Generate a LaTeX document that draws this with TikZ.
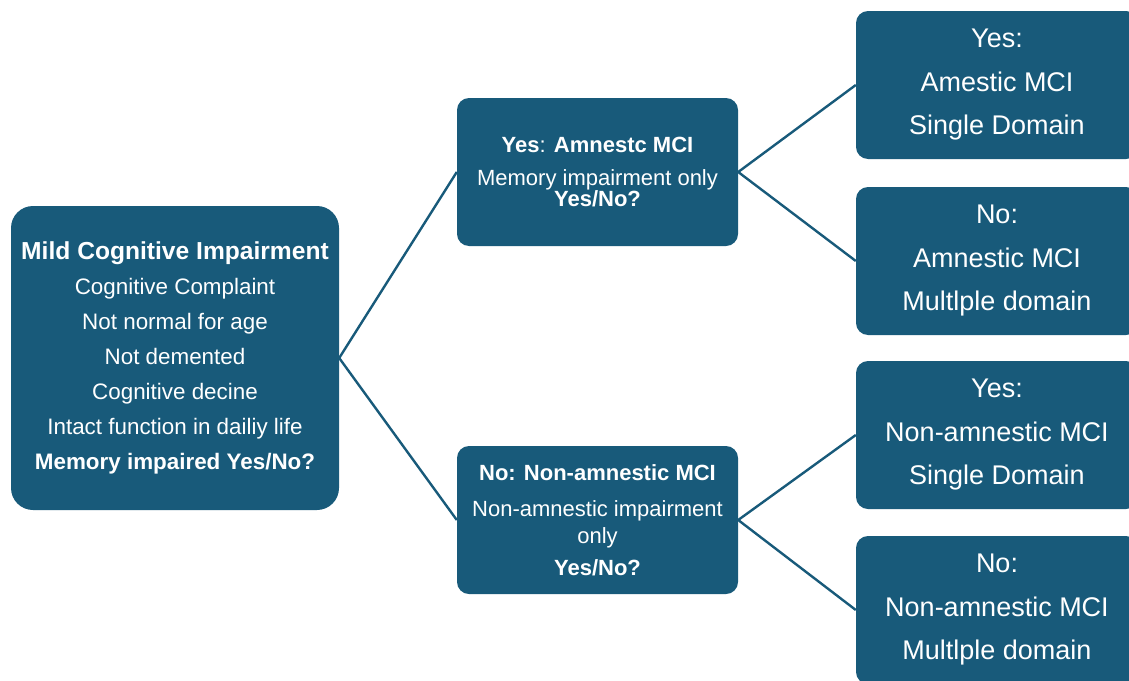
\documentclass[tikz,border=0pt]{standalone}
\usepackage{fontspec}
\setmainfont{Liberation Sans}
\usepackage{xcolor}
\usepackage{tikz}
\definecolor{mciblue}{RGB}{24,90,122}

\begin{document}
\begin{tikzpicture}[x=1pt, y=-1pt, every node/.style={inner sep=2pt},
  box/.style={fill=mciblue, text=white, align=center, rounded corners=12pt,
    minimum width=281pt, minimum height=148pt},
  mid/.style={box, font=\fontsize{22}{22}\selectfont},
  leaf/.style={box, minimum width=282pt, font=\fontsize{27}{43.5}\selectfont},
  link/.style={draw=mciblue, line width=2.4pt}]
\useasboundingbox (0,0) rectangle (1129,680);
\clip (0,0) rectangle (1129,680);
% root
\node[box, rounded corners=22pt, minimum width=328pt, minimum height=304pt,
  font=\fontsize{22.4}{35}\selectfont] (mci) at (175,358)
  {{\fontsize{24.6}{35}\selectfont\bfseries Mild Cognitive Impairment}\\
   Cognitive Complaint\\ Not normal for age\\ Not demented\\
   Cognitive decine\\ Intact function in dailiy life\\
   \textbf{Memory impaired Yes/No?}};
% second level
\node[mid] (amn) at (597.5,172)
  {\textbf{Yes}: \textbf{Amnestc MCI}\\[11pt]
   Memory impairment only\\[-1pt] \textbf{Yes/No?}};
\node[mid, font=\fontsize{22}{27}\selectfont] (nonamn) at (597.5,520)
  {\textbf{No: Non-amnestic MCI}\\[9pt]
   Non-amnestic impairment\\ only\\[5pt] \textbf{Yes/No?}};
% leaves
\node[leaf] (amnsd) at (997,85) {Yes:\\ Amestic MCI\\ Single Domain};
\node[leaf] (amnmd) at (997,261) {No:\\ Amnestic MCI\\ Multlple domain};
\node[leaf] (nasd) at (997,435) {Yes:\\ Non-amnestic MCI\\ Single Domain};
\node[leaf] (namd) at (997,610) {No:\\ Non-amnestic MCI\\ Multlple domain};
% connectors
\draw[link] (mci.east) -- (amn.west);
\draw[link] (mci.east) -- (nonamn.west);
\draw[link] (amn.east) -- (amnsd.west);
\draw[link] (amn.east) -- (amnmd.west);
\draw[link] (nonamn.east) -- (nasd.west);
\draw[link] (nonamn.east) -- (namd.west);
\end{tikzpicture}
\end{document}
